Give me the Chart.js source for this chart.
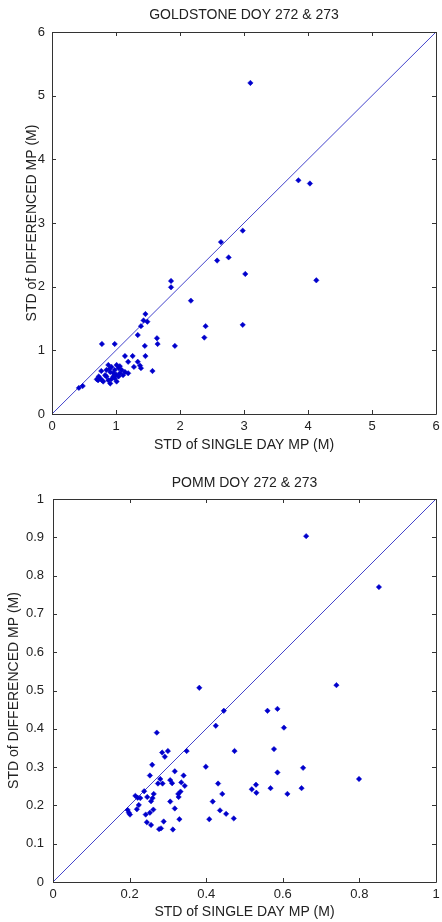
<!DOCTYPE html>
<html>
<head>
<meta charset="utf-8">
<script src="https://cdn.jsdelivr.net/npm/chart.js@4.4.1/dist/chart.umd.min.js"></script>
<style>
  body { margin: 0; background: #fff; }
  .plot { width: 442px; height: 461px; position: relative; }
</style>
</head>
<body>
<div class="plot"><canvas id="chartGold" width="442" height="461"></canvas></div>
<div class="plot"><canvas id="chartPomm" width="442" height="461"></canvas></div>
<script>
// GOLDSTONE DOY 272 & 273
const goldX = [3.10, 3.85, 4.03, 2.98, 2.64, 2.58, 2.76, 3.02, 4.13, 1.86, 1.86, 2.17, 1.46, 1.43, 1.49,
  1.39, 2.40, 2.98, 2.38, 1.34, 1.64, 1.65, 0.78, 0.98, 1.45, 1.92, 1.46, 1.14, 1.26, 1.19, 1.34, 1.375,
  1.28, 1.39, 1.57, 0.77, 0.73, 0.70, 0.78, 0.42, 0.48,
  0.88, 0.93, 1.01, 1.04, 1.09, 1.14, 1.19, 0.91, 0.96, 0.83, 0.75, 0.72, 0.80, 0.88, 0.98, 1.04, 0.91,
  1.01, 1.06, 1.11, 0.85, 0.98, 0.96, 0.85, 0.93, 1.00, 0.90, 1.06];
const goldY = [5.20, 3.67, 3.62, 2.88, 2.70, 2.41, 2.46, 2.20, 2.10, 2.09, 1.99, 1.78, 1.57, 1.47, 1.45,
  1.38, 1.38, 1.40, 1.20, 1.24, 1.19, 1.10, 1.10, 1.10, 1.07, 1.07, 0.91, 0.91, 0.91, 0.82, 0.82, 0.76,
  0.74, 0.72, 0.675, 0.675, 0.59, 0.545, 0.53, 0.41, 0.44,
  0.77, 0.74, 0.77, 0.72, 0.69, 0.66, 0.64, 0.66, 0.64, 0.61, 0.56, 0.53, 0.51, 0.53, 0.56, 0.59, 0.48,
  0.51, 0.64, 0.61, 0.69, 0.69, 0.59, 0.59, 0.55, 0.62, 0.71, 0.75];

// POMM DOY 272 & 273
const pommX = [0.661, 0.851, 0.740, 0.382, 0.446, 0.425, 0.560, 0.586, 0.603, 0.474, 0.577, 0.399, 0.586,
  0.653, 0.799, 0.271, 0.349, 0.285, 0.300, 0.292, 0.259, 0.318, 0.253, 0.341, 0.280, 0.306, 0.311, 0.274,
  0.286, 0.335, 0.344, 0.431, 0.238, 0.442, 0.333, 0.327, 0.263, 0.215, 0.221, 0.228, 0.246, 0.260, 0.328,
  0.256, 0.306, 0.417, 0.224, 0.219, 0.262, 0.318, 0.436, 0.195, 0.198, 0.201, 0.253, 0.242, 0.452, 0.472,
  0.408, 0.330, 0.245, 0.256, 0.289, 0.277, 0.282, 0.313, 0.530, 0.519, 0.531, 0.568, 0.612, 0.649];
const pommY = [0.903, 0.770, 0.514, 0.507, 0.447, 0.408, 0.447, 0.452, 0.403, 0.342, 0.347, 0.301, 0.286,
  0.298, 0.269, 0.390, 0.342, 0.338, 0.342, 0.327, 0.306, 0.289, 0.278, 0.278, 0.269, 0.266, 0.258, 0.257,
  0.257, 0.260, 0.251, 0.257, 0.237, 0.230, 0.236, 0.230, 0.230, 0.225, 0.220, 0.219, 0.222, 0.219, 0.222,
  0.211, 0.210, 0.210, 0.201, 0.190, 0.189, 0.192, 0.187, 0.188, 0.181, 0.176, 0.181, 0.176, 0.178, 0.166,
  0.164, 0.164, 0.156, 0.149, 0.158, 0.138, 0.140, 0.137, 0.254, 0.242, 0.233, 0.245, 0.230, 0.245];

const goldLimits = [0, 6];
const goldStep = 1;
const pommLimits = [0, 1];
const pommXStep = 0.2;
const pommYStep = 0.1;

const FONT = '"Liberation Sans", Arial, sans-serif';
const TEXT = "#222";
const LABEL_SIZE = 14;
const TICK_SIZE = 13;

// MATLAB style: full box, ticks pointing inwards on all four sides, title above
const matlabBox = {
  id: "matlabBox",
  afterDraw(chart, args, opts) {
    const { ctx, chartArea: a } = chart;
    const x = chart.scales.x;
    const y = chart.scales.y;
    ctx.save();
    ctx.strokeStyle = "#333";
    ctx.lineWidth = 1;
    ctx.beginPath();
    ctx.rect(Math.round(a.left) + 0.5, Math.round(a.top) + 0.5,
      Math.round(a.right - a.left), Math.round(a.bottom - a.top));
    x.ticks.forEach((t) => {
      const px = Math.round(x.getPixelForValue(t.value)) + 0.5;
      ctx.moveTo(px, a.bottom); ctx.lineTo(px, a.bottom - 4);
      ctx.moveTo(px, a.top); ctx.lineTo(px, a.top + 4);
    });
    y.ticks.forEach((t) => {
      const py = Math.round(y.getPixelForValue(t.value)) + 0.5;
      ctx.moveTo(a.left, py); ctx.lineTo(a.left + 4, py);
      ctx.moveTo(a.right, py); ctx.lineTo(a.right - 4, py);
    });
    ctx.stroke();
    ctx.fillStyle = TEXT;
    ctx.font = LABEL_SIZE + "px " + FONT;
    ctx.textAlign = "center";
    ctx.textBaseline = "middle";
    ctx.fillText(opts.text, (a.left + a.right) / 2, opts.y);
    ctx.restore();
  },
};

// matlab prints 0 and 1, not 0.0 and 1.0
const fmt = (v) => String(Number(v.toFixed(2)));

function makeChart(id, title, xs, ys, limits, xStep, yStep, box) {
  const pts = xs.map((v, i) => ({ x: v, y: ys[i] }));
  return new Chart(document.getElementById(id), {
    type: "scatter",
    data: {
      datasets: [
        {
          data: pts,
          pointStyle: "rectRot",
          pointRadius: 2.7,
          backgroundColor: "#0000cc",
          borderColor: "#0000cc",
          borderWidth: 0.5,
        },
        {
          data: [{ x: limits[0], y: limits[0] }, { x: limits[1], y: limits[1] }],
          showLine: true,
          pointRadius: 0,
          borderColor: "#4444cc",
          borderWidth: 1,
        },
      ],
    },
    options: {
      responsive: false,
      animation: false,
      layout: { padding: { top: box.top, right: 0, left: 0, bottom: 0 } },
      scales: {
        x: {
          type: "linear",
          min: limits[0],
          max: limits[1],
          afterFit: (s) => { s.height = box.xh; s.paddingRight = 6; },
          ticks: { stepSize: xStep, padding: 5, color: TEXT, font: { family: FONT, size: TICK_SIZE }, callback: fmt },
          grid: { display: false, drawTicks: false },
          border: { display: false },
          title: {
            display: true,
            text: "STD of SINGLE DAY MP (M)",
            color: TEXT,
            font: { family: FONT, size: LABEL_SIZE },
            padding: { top: 0, bottom: box.xtPad },
          },
        },
        y: {
          type: "linear",
          min: limits[0],
          max: limits[1],
          afterFit: (s) => { s.width = box.yw; },
          ticks: { stepSize: yStep, padding: box.ytickPad, color: TEXT, font: { family: FONT, size: TICK_SIZE }, callback: fmt },
          grid: { display: false, drawTicks: false },
          border: { display: false },
          title: {
            display: true,
            text: "STD of DIFFERENCED MP (M)",
            color: TEXT,
            font: { family: FONT, size: LABEL_SIZE },
            padding: { top: box.ytPad, bottom: 0 },
          },
        },
      },
      plugins: {
        legend: { display: false },
        tooltip: { enabled: false },
        matlabBox: { text: title, y: box.titleY },
      },
    },
    plugins: [matlabBox],
  });
}

makeChart("chartGold", "GOLDSTONE DOY 272 & 273", goldX, goldY, goldLimits, goldStep, goldStep,
  { top: 32, xh: 47, yw: 52, xtPad: 7, ytPad: 24, ytickPad: 7, titleY: 15 });
makeChart("chartPomm", "POMM DOY 272 & 273", pommX, pommY, pommLimits, pommXStep, pommYStep,
  { top: 38, xh: 40, yw: 53, xtPad: 1, ytPad: 5.5, ytickPad: 9, titleY: 22 });
</script>
</body>
</html>
